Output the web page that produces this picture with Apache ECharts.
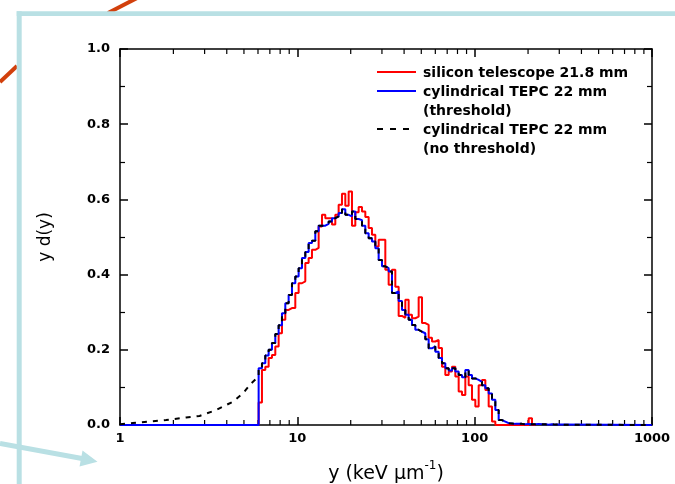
<!DOCTYPE html>
<html>
<head>
<meta charset="utf-8">
<script src="https://cdn.jsdelivr.net/npm/echarts@6/dist/echarts.min.js"></script>
<style>
  html, body { margin: 0; padding: 0; background: #ffffff; }
  #chart { width: 675px; height: 484px; }
</style>
</head>
<body>
<div id="chart"></div>
<script>
// Lineal energy spectra y d(y), log-binned histograms (first bin edge = threshold)
const binStart = 6.05;        // keV/um, lower edge of first bin
const binLogWidth = 0.0188;   // bin width in decades

// silicon telescope 21.8 mm
const siliconValues = [
  0.060,0.146,0.155,0.178,0.186,0.209,0.244,0.280,0.306,0.311,
  0.311,0.351,0.377,0.382,0.431,0.444,0.466,0.471,0.528,0.559,
  0.550,0.550,0.533,0.559,0.586,0.615,0.583,0.621,0.530,0.566,
  0.580,0.568,0.553,0.524,0.506,0.475,0.493,0.493,0.413,0.373,
  0.413,0.368,0.290,0.285,0.333,0.293,0.284,0.288,0.340,0.271,
  0.266,0.232,0.222,0.226,0.205,0.155,0.133,0.142,0.155,0.129,
  0.089,0.080,0.129,0.106,0.067,0.049,0.106,0.120,0.093,0.049,
  0.009,0,0,0,0,0,0,0,0,0,0,0.018,0
];

// cylindrical TEPC 22 mm (threshold)
const tepcValues = [
  0.151,0.164,0.185,0.200,0.218,0.242,0.265,0.297,0.324,0.346,
  0.377,0.395,0.417,0.444,0.460,0.484,0.490,0.515,0.530,0.530,
  0.535,0.541,0.550,0.555,0.564,0.574,0.559,0.555,0.568,0.548,
  0.545,0.530,0.510,0.497,0.488,0.470,0.439,0.422,0.417,0.408,
  0.351,0.355,0.330,0.306,0.293,0.280,0.266,0.253,0.248,0.244,
  0.228,0.204,0.209,0.195,0.178,0.164,0.151,0.145,0.151,0.142,
  0.133,0.127,0.146,0.133,0.124,0.120,0.115,0.106,0.098,0.084,
  0.067,0.040,0.013,0.009,0.005,0.004,0.003,0.003,0.003,0.002,
  0.003,0.002,0.002,0.003,0.002,0.002,0.001,0.002,0.001,0.001
];

// cylindrical TEPC 22 mm (no threshold): part below the threshold
const belowThresholdY = [1.00, 1.18, 1.47, 1.82, 2.36, 2.81, 3.49, 4.33, 4.93, 5.50, 6.05];
const belowThresholdYdY = [0.002, 0.005, 0.009, 0.013, 0.020, 0.024, 0.040, 0.062, 0.084, 0.111, 0.129];

// axis ticks
const xMajorTicks = [1, 10, 100, 1000];
const xMinorTicks = [2,3,4,5,6,7,8,9, 20,30,40,50,60,70,80,90, 200,300,400,500,600,700,800,900];
const yTicks = [0.0, 0.2, 0.4, 0.6, 0.8, 1.0];

const seriesNames = [
  'silicon telescope 21.8 mm',
  'cylindrical TEPC 22 mm\n(threshold)',
  'cylindrical TEPC 22 mm\n(no threshold)'
];

function binEdge(k) { return binStart * Math.pow(10, k * binLogWidth); }

function stepPoints(values) {
  const pts = [];
  values.forEach((v, k) => { pts.push([binEdge(k), v], [binEdge(k + 1), v]); });
  pts.push([binEdge(values.length), 0]);
  return pts;
}

const siliconData = [[binStart, 0]].concat(stepPoints(siliconValues));
const tepcData = [[1, 0], [binStart, 0]].concat(stepPoints(tepcValues), [[1000, 0]]);
const noThresholdData = belowThresholdY.map((x, i) => [x, belowThresholdYdY[i]])
  .concat(stepPoints(tepcValues), [[1000, 0]]);

const FONT = 'DejaVu Sans';
const axisLine = { show: true, onZero: false, lineStyle: { color: '#000', width: 1.5 } };
const majorTick = { show: true, inside: true, length: 8, lineStyle: { color: '#000', width: 1.5 } };

const chart = echarts.init(document.getElementById('chart'), null, { renderer: 'canvas' });

// light blue frame, orange stroke and arrow around the plot
const frameColor = '#b9e0e4';
const graphics = [
  { type: 'line', shape: { x1: 0, y1: 82, x2: 17, y2: 66 }, style: { stroke: '#d2400c', lineWidth: 4 } },
  { type: 'line', shape: { x1: 108, y1: 13, x2: 139, y2: -3 }, style: { stroke: '#d2400c', lineWidth: 4 } },
  { type: 'rect', shape: { x: 16.7, y: 11.3, width: 670, height: 4.7 }, style: { fill: frameColor } },
  { type: 'rect', shape: { x: 16.7, y: 11.3, width: 5, height: 480 }, style: { fill: frameColor } },
  { type: 'line', shape: { x1: 0, y1: 443.5, x2: 82, y2: 458.5 }, style: { stroke: frameColor, lineWidth: 5 } },
  { type: 'polygon', shape: { points: [[97.5, 461.8], [79.5, 466.5], [82.5, 450.5]] }, style: { fill: frameColor } }
];

// legend drawn as lines + bold labels
const legendX1 = 377, legendX2 = 416, legendTextX = 423;
const legendRows = [
  { y: 72, color: '#ff0000', dash: null, text: seriesNames[0] },
  { y: 91, color: '#0000ff', dash: null, text: seriesNames[1] },
  { y: 129, color: '#000000', dash: [6, 7], text: seriesNames[2] }
];
legendRows.forEach(r => {
  graphics.push({
    type: 'line', shape: { x1: legendX1, y1: r.y, x2: legendX2, y2: r.y },
    style: { stroke: r.color, lineWidth: 2, lineDash: r.dash || null }
  });
  graphics.push({
    type: 'text', x: legendTextX, y: r.y - 8,
    style: { text: r.text, fill: '#000', font: 'bold 14px "DejaVu Sans"', lineHeight: 19, textVerticalAlign: 'top' }
  });
});

const option = {
  backgroundColor: '#ffffff',
  animation: false,
  graphic: { elements: graphics },
  grid: { left: 120, top: 49, width: 532, height: 376, containLabel: false, outerBoundsMode: 'none' },
  xAxis: [
    {
      type: 'log', logBase: 10, min: 1, max: 1000, position: 'bottom',
      axisLine: axisLine, axisTick: majorTick,
      axisLabel: {
        show: true, margin: 7, color: '#000', fontFamily: FONT, fontWeight: 'bold', fontSize: 13,
        formatter: v => (xMajorTicks.indexOf(Math.round(v)) >= 0 ? String(Math.round(v)) : '')
      },
      splitLine: { show: false },
      name: '{t|y (keV }{t|μm}{s|-1}{t|)}',
      nameLocation: 'middle', nameGap: 35,
      nameTextStyle: {
        rich: {
          t: { fontFamily: FONT, fontSize: 19, color: '#000', verticalAlign: 'bottom', lineHeight: 24 },
          s: { fontFamily: FONT, fontSize: 12, color: '#000', verticalAlign: 'top', lineHeight: 24, padding: [0, 0, 10, 0] }
        }
      }
    },
    {
      type: 'log', logBase: 10, min: 1, max: 1000, position: 'top',
      axisLine: axisLine, axisTick: majorTick,
      axisLabel: { show: false },
      splitLine: { show: false }
    }
  ],
  yAxis: [
    {
      type: 'value', min: 0, max: 1, interval: 0.2, position: 'left',
      axisLine: axisLine, axisTick: majorTick,
      minorTick: { show: true, splitNumber: 2, length: 5, lineStyle: { color: '#000', width: 1.2 } },
      axisLabel: {
        margin: 10, color: '#000', fontFamily: FONT, fontWeight: 'bold', fontSize: 13,
        formatter: v => yTicks.find(t => Math.abs(t - v) < 1e-6).toFixed(1)
      },
      splitLine: { show: false },
      name: 'y d(y)', nameLocation: 'middle', nameGap: 66,
      nameTextStyle: { fontFamily: FONT, fontSize: 17, color: '#000' }
    },
    {
      type: 'value', min: 0, max: 1, interval: 0.2, position: 'right',
      axisLine: axisLine, axisTick: majorTick,
      minorTick: { show: true, splitNumber: 2, length: 5, lineStyle: { color: '#000', width: 1.2 } },
      axisLabel: { show: false },
      splitLine: { show: false }
    }
  ],
  series: [
    {
      // minor ticks at 2..9 of each decade on the bottom and top axes
      type: 'custom', name: 'minor ticks', xAxisIndex: 0, yAxisIndex: 0, silent: true, z: 1,
      data: xMinorTicks.map(v => [v, 0]),
      encode: { x: 0, y: 1 },
      renderItem: (params, api) => {
        const v = api.value(0);
        const b = api.coord([v, 0]);
        const t = api.coord([v, 1]);
        const st = { stroke: '#000', lineWidth: 1.2 };
        return {
          type: 'group',
          children: [
            { type: 'line', shape: { x1: b[0], y1: b[1], x2: b[0], y2: b[1] - 5 }, style: st },
            { type: 'line', shape: { x1: t[0], y1: t[1], x2: t[0], y2: t[1] + 5 }, style: st }
          ]
        };
      }
    },
    {
      name: seriesNames[0], type: 'line', data: siliconData, symbol: 'none', clip: false,
      lineStyle: { color: '#ff0000', width: 2 }, z: 3
    },
    {
      name: seriesNames[1], type: 'line', data: tepcData, symbol: 'none', clip: false,
      lineStyle: { color: '#0000ff', width: 2 }, z: 4
    },
    {
      name: seriesNames[2], type: 'line', data: noThresholdData, symbol: 'none', clip: false,
      lineStyle: { color: '#000000', width: 2, type: [5, 6] }, z: 5
    }
  ]
};

chart.setOption(option);
</script>
</body>
</html>
